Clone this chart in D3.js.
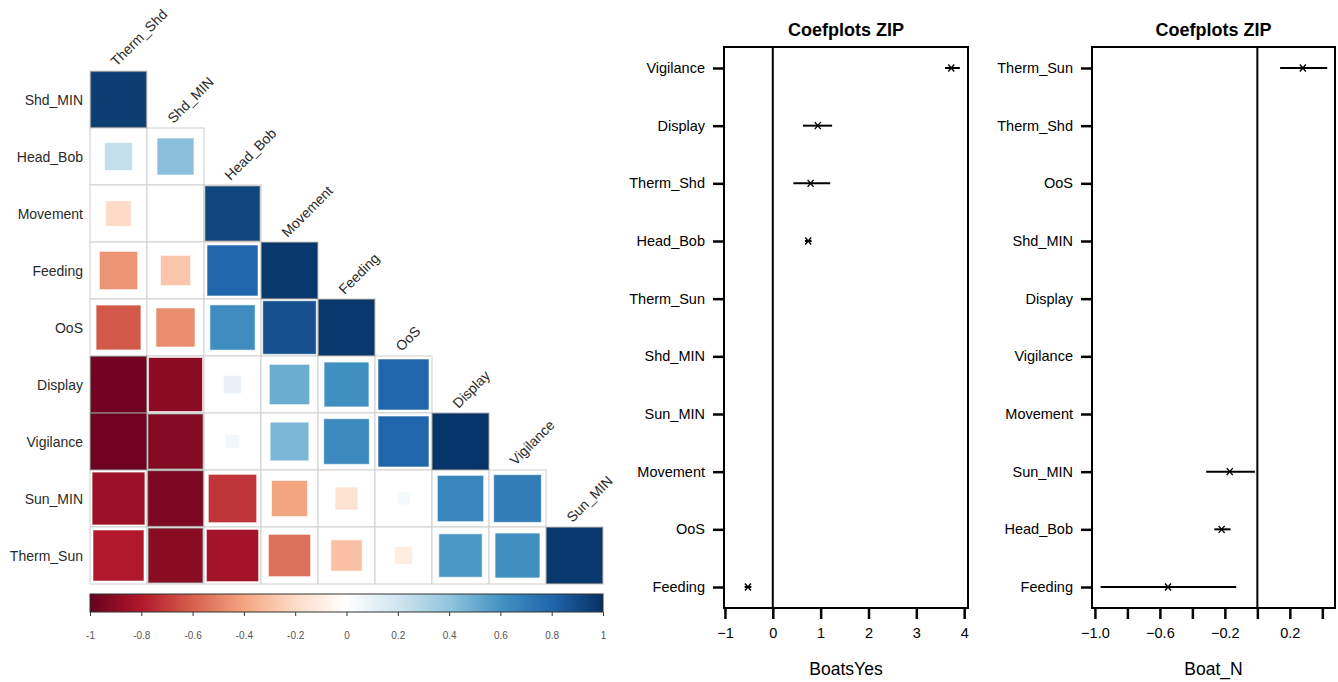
<!DOCTYPE html>
<html>
<head>
<meta charset="utf-8">
<script src="https://cdn.jsdelivr.net/npm/d3@7"></script>
<style>
  body { margin: 0; background: #fff; }
  svg { font-family: "Liberation Sans", Arial, sans-serif; }
  .rowLabel, .colLabel { font-size: 14px; fill: #2a2a2a; }
  .cbar .tick text { font-size: 10px; fill: #555; }
  .cbar .tick line { stroke: #333; }
  .cbar .domain { display: none; }
  .coef .tick text { font-size: 14.5px; fill: #000; }
  .coef .domain { display: none; }
  .coef .tick line { stroke: #000; stroke-width: 2.5; }
  .coefTitle { font-size: 18px; font-weight: bold; }
  .axisTitle { font-size: 17.5px; }
</style>
</head>
<body>
<svg id="chart" width="1338" height="682"></svg>
<script>
// variables of the correlation matrix (lower triangle, diagonal dropped)
const vars = ['Therm_Shd', 'Shd_MIN', 'Head_Bob', 'Movement', 'Feeding', 'OoS', 'Display', 'Vigilance', 'Sun_MIN', 'Therm_Sun'];
const corrRows = [
    [0.95],
    [0.24, 0.42],
    [-0.20, 0.01, 0.92],
    [-0.45, -0.28, 0.80, 0.97],
    [-0.62, -0.47, 0.63, 0.88, 0.97],
    [-0.97, -0.90, 0.10, 0.50, 0.62, 0.80],
    [-0.98, -0.92, 0.06, 0.46, 0.64, 0.80, 0.98],
    [-0.86, -0.94, -0.72, -0.40, -0.16, 0.05, 0.66, 0.70],
    [-0.80, -0.91, -0.84, -0.55, -0.30, -0.10, 0.58, 0.62, 0.97]
];
const colorTicks = [-1, -0.8, -0.6, -0.4, -0.2, 0, 0.2, 0.4, 0.6, 0.8, 1];
const rdbu = ['#67001F', '#B2182B', '#D6604D', '#F4A582', '#FDDBC7', '#FFFFFF', '#D1E5F0', '#92C5DE', '#4393C3', '#2166AC', '#053061'];

// coefficient plots
const coef1Labels = ['Vigilance', 'Display', 'Therm_Shd', 'Head_Bob', 'Therm_Sun', 'Shd_MIN', 'Sun_MIN', 'Movement', 'OoS', 'Feeding'];
const coef1Est = [3.73, 0.94, 0.79, 0.74, null, null, null, null, null, -0.52];
const coef1Lo = [3.60, 0.63, 0.43, 0.67, null, null, null, null, null, -0.59];
const coef1Hi = [3.91, 1.24, 1.20, 0.81, null, null, null, null, null, -0.45];
const coef1Ticks = [-1, 0, 1, 2, 3, 4];

const coef2Labels = ['Therm_Sun', 'Therm_Shd', 'OoS', 'Shd_MIN', 'Display', 'Vigilance', 'Movement', 'Sun_MIN', 'Head_Bob', 'Feeding'];
const coef2Est = [0.28, null, null, null, null, null, null, -0.17, -0.22, -0.55];
const coef2Lo = [0.14, null, null, null, null, null, null, -0.315, -0.265, -0.965];
const coef2Hi = [0.43, null, null, null, null, null, null, -0.015, -0.165, -0.13];
const coef2Ticks = [-1.0, -0.8, -0.6, -0.4, -0.2, 0, 0.2, 0.4];
const coef2Shown = [-1.0, -0.6, -0.2, 0.2];

const svg = d3.select('#chart');

// ---------- correlation matrix ----------
const rowVars = vars.slice(1);
const colVars = vars.slice(0, -1);

const xCell = d3.scaleBand().domain(colVars).range([90, 603]);
const yCell = d3.scaleBand().domain(rowVars).range([71, 584]);
const cs = xCell.bandwidth();

const color = d3.scaleLinear()
    .domain(colorTicks)
    .range(rdbu)
    .interpolate(d3.interpolateRgb);

const cells = [];
corrRows.forEach((row, i) => {
    row.forEach((r, j) => {
        cells.push({ row: rowVars[i], col: colVars[j], r: r });
    });
});

const corr = svg.append('g');

corr.selectAll('rect.cell')
    .data(cells)
    .join('rect')
    .attr('class', 'cell')
    .attr('x', d => xCell(d.col))
    .attr('y', d => yCell(d.row))
    .attr('width', cs)
    .attr('height', cs)
    .attr('fill', '#fff')
    .attr('stroke', '#cfcfcf')
    .attr('stroke-width', 1);

corr.selectAll('rect.sq')
    .data(cells)
    .join('rect')
    .attr('class', 'sq')
    .attr('x', d => xCell(d.col) + (cs - cs * Math.sqrt(Math.abs(d.r))) / 2)
    .attr('y', d => yCell(d.row) + (cs - cs * Math.sqrt(Math.abs(d.r))) / 2)
    .attr('width', d => cs * Math.sqrt(Math.abs(d.r)))
    .attr('height', d => cs * Math.sqrt(Math.abs(d.r)))
    .attr('fill', d => color(d.r))
    .attr('stroke', d => Math.abs(d.r) > 0.9 ? '#777' : '#fff')
    .attr('stroke-opacity', 0.6)
    .attr('stroke-width', 1);

corr.selectAll('text.rowLabel')
    .data(rowVars)
    .join('text')
    .attr('class', 'rowLabel')
    .attr('x', 83)
    .attr('y', d => yCell(d) + cs / 2 + 5)
    .attr('text-anchor', 'end')
    .text(d => d);

corr.selectAll('text.colLabel')
    .data(colVars)
    .join('text')
    .attr('class', 'colLabel')
    .attr('transform', (d, i) => `translate(${xCell(d) + cs / 2 - 2}, ${yCell(rowVars[i]) - 4}) rotate(-45)`)
    .attr('text-anchor', 'start')
    .text(d => d);

// colour bar
const cbX = d3.scaleLinear().domain([-1, 1]).range([90, 603]);
const defs = svg.append('defs');
const grad = defs.append('linearGradient').attr('id', 'cbGrad');
d3.range(0, 1.0001, 0.02).forEach(t => {
    grad.append('stop')
        .attr('offset', t)
        .attr('stop-color', color(-1 + 2 * t));
});

corr.append('rect')
    .attr('x', 90)
    .attr('y', 594)
    .attr('width', 513)
    .attr('height', 18)
    .attr('fill', 'url(#cbGrad)')
    .attr('stroke', '#333')
    .attr('stroke-width', 1);

corr.append('g')
    .attr('class', 'cbar')
    .attr('transform', 'translate(0, 612)')
    .call(d3.axisBottom(cbX).tickValues(colorTicks).tickSize(4).tickPadding(16).tickFormat(d => String(d)));

// ---------- coefficient plots ----------
class Coefplot {
    constructor(_config, _data) {
        this.config = _config;
        this.data = _data;
        this.initVis();
    }

    initVis() {
        let vis = this;
        const c = vis.config;

        vis.xScale = d3.scaleLinear().domain(c.xDomain).range([c.left, c.right]);
        vis.yScale = d3.scalePoint().domain(vis.data.map(d => d.label)).range([68, 587]);

        vis.g = svg.append('g').attr('class', 'coef');

        vis.g.append('rect')
            .attr('x', c.left)
            .attr('y', c.top)
            .attr('width', c.right - c.left)
            .attr('height', c.bottom - c.top)
            .attr('fill', 'none')
            .attr('stroke', '#000')
            .attr('stroke-width', 2);

        vis.g.append('line')
            .attr('x1', vis.xScale(0))
            .attr('x2', vis.xScale(0))
            .attr('y1', c.top)
            .attr('y2', c.bottom)
            .attr('stroke', '#000')
            .attr('stroke-width', 2);

        vis.g.append('g')
            .attr('transform', `translate(${c.left - 1}, 0)`)
            .call(d3.axisLeft(vis.yScale).tickSize(10).tickPadding(8));

        vis.g.append('g')
            .attr('transform', `translate(0, ${c.bottom + 1})`)
            .call(d3.axisBottom(vis.xScale).tickValues(c.ticks).tickSize(10).tickPadding(9)
                .tickFormat(c.tickFormat));

        vis.g.append('text')
            .attr('class', 'coefTitle')
            .attr('x', (c.left + c.right) / 2)
            .attr('y', 36)
            .attr('text-anchor', 'middle')
            .text('Coefplots ZIP');

        vis.g.append('text')
            .attr('class', 'axisTitle')
            .attr('x', (c.left + c.right) / 2)
            .attr('y', 675)
            .attr('text-anchor', 'middle')
            .text(c.xTitle);

        vis.renderVis();
    }

    renderVis() {
        let vis = this;
        const pts = vis.data.filter(d => d.est != null);

        vis.g.selectAll('line.ci')
            .data(pts)
            .join('line')
            .attr('class', 'ci')
            .attr('x1', d => vis.xScale(d.lo))
            .attr('x2', d => vis.xScale(d.hi))
            .attr('y1', d => vis.yScale(d.label))
            .attr('y2', d => vis.yScale(d.label))
            .attr('stroke', '#000')
            .attr('stroke-width', 2);

        vis.g.selectAll('path.pt')
            .data(pts)
            .join('path')
            .attr('class', 'pt')
            .attr('transform', d => `translate(${vis.xScale(d.est)}, ${vis.yScale(d.label)})`)
            .attr('d', 'M-3,-3.5L3,3.5M3,-3.5L-3,3.5')
            .attr('stroke', '#000')
            .attr('stroke-width', 1.4)
            .attr('fill', 'none');
    }
}

const zip = (labels, est, lo, hi) => labels.map((l, i) => ({ label: l, est: est[i], lo: lo[i], hi: hi[i] }));

new Coefplot({
    left: 724, right: 968, top: 47, bottom: 608,
    xDomain: [-1.02, 4.08],
    ticks: coef1Ticks,
    tickFormat: d3.format('d'),
    xTitle: 'BoatsYes'
}, zip(coef1Labels, coef1Est, coef1Lo, coef1Hi));

new Coefplot({
    left: 1092, right: 1335, top: 47, bottom: 608,
    xDomain: [-1.018, 0.478],
    ticks: coef2Ticks,
    tickFormat: d => coef2Shown.some(s => Math.abs(s - d) < 1e-9) ? d3.format('.1f')(d) : '',
    xTitle: 'Boat_N'
}, zip(coef2Labels, coef2Est, coef2Lo, coef2Hi));
</script>
</body>
</html>
